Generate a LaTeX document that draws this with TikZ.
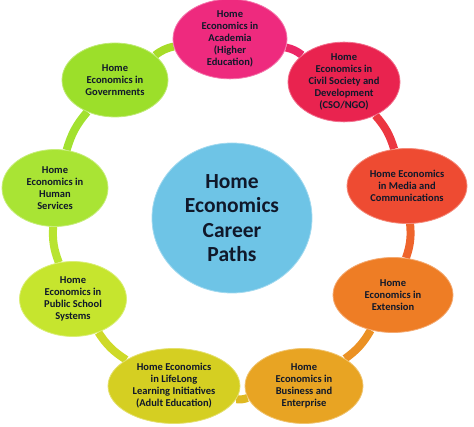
\documentclass[tikz,border=0pt]{standalone}
\usepackage{fontspec}
\setmainfont{Carlito}
\usetikzlibrary{shapes.geometric, backgrounds}

\definecolor{cAcad}{HTML}{EE2A7E}
\definecolor{cCso}{HTML}{E9234F}
\definecolor{cMedia}{HTML}{EE4B32}
\definecolor{cExt}{HTML}{EE7D25}
\definecolor{cBus}{HTML}{E8A423}
\definecolor{cLife}{HTML}{D5CF22}
\definecolor{cSchool}{HTML}{C6E52E}
\definecolor{cHuman}{HTML}{A9E434}
\definecolor{cGov}{HTML}{9CDF2A}
\definecolor{cHub}{HTML}{6EC4E6}
\definecolor{cText}{HTML}{10182A}

\begin{document}
\begin{tikzpicture}[x=1pt, y=1pt,
        path/.style = {ellipse, draw=#1!65!white, line width=0.8pt, fill=#1, inner sep=0pt, align=center,
                       text=cText, font=\fontsize{10.5}{12}\selectfont\bfseries},
        hub/.style = {ellipse, draw=cHub!65!white, line width=0.8pt, fill=cHub, inner sep=0pt, align=center,
                      minimum width=160pt, minimum height=150pt, text=cText, font=\fontsize{21.5}{24.5}\selectfont\bfseries},
        link/.style = {line width=8pt, #1, bend left=12}
    ]
        \useasboundingbox (0,0) rectangle (474,427);
        \node[hub] (hub) at (232,209) {Home\\Economics\\Career\\Paths};
        \node[path=cAcad, minimum width=114pt, minimum height=77pt] (acad) at (230,388) {Home\\Economics in\\Academia\\(Higher\\Education)};
        \node[path=cCso, minimum width=112pt, minimum height=72pt] (cso) at (344,345) {Home\\Economics in\\Civil Society and\\Development\\(CSO/NGO)};
        \node[path=cMedia, minimum width=120pt, minimum height=75pt] (media) at (407,241) {Home Economics\\in Media and\\Communications};
        \node[path=cExt, minimum width=120pt, minimum height=75pt] (ext) at (393,132) {Home\\Economics in\\Extension};
        \node[path=cBus, minimum width=118pt, minimum height=75pt] (bus) at (304,41) {Home\\Economics in\\Business and\\Enterprise};
        \node[path=cLife, minimum width=132pt, minimum height=75pt] (life) at (174,41) {Home Economics\\in LifeLong\\Learning Initiatives\\(Adult Education)};
        \node[path=cSchool, minimum width=107pt, minimum height=75pt] (school) at (73,128) {Home\\Economics in\\Public School\\Systems};
        \node[path=cHuman, minimum width=106pt, minimum height=77pt] (human) at (55,239) {Home\\Economics in\\Human\\Services};
        \node[path=cGov, minimum width=106pt, minimum height=74pt] (gov) at (115,347) {Home\\Economics in\\Governments};
        \begin{scope}[on background layer]
            \draw[link=cAcad!50!cCso] (acad) to (cso);
            \draw[link=cCso!50!cMedia] (cso) to (media);
            \draw[link=cMedia!50!cExt] (media) to (ext);
            \draw[link=cExt!50!cBus] (ext) to (bus);
            \draw[link=cBus!50!cLife] (bus) to (life);
            \draw[link=cLife!50!cSchool] (life) to (school);
            \draw[link=cSchool!50!cHuman] (school) to (human);
            \draw[link=cHuman!50!cGov] (human) to (gov);
            \draw[link=cGov!80!cLife] (gov) to (acad);
        \end{scope}
    \end{tikzpicture}
\end{document}
